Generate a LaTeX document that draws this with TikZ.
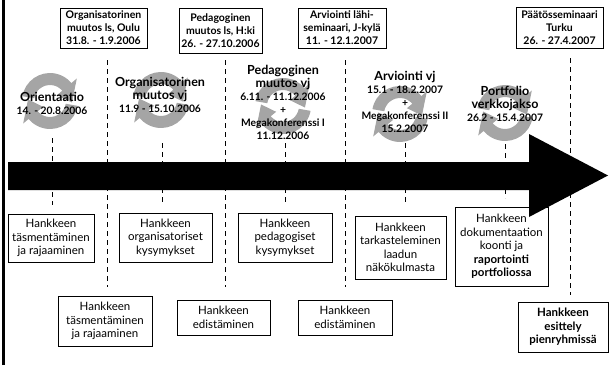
\documentclass[tikz,border=0pt]{standalone}
\usepackage{fontspec}
\setmainfont{Lato}
\definecolor{ringgray}{HTML}{A5A5A5}
\newcommand\icontitle{\fontsize{12.5}{13}\selectfont\bfseries}
\newcommand\iconsub{\fontsize{10.3}{13}\selectfont\bfseries}
\newcommand\topfont{\fontsize{10.5}{13}\selectfont\bfseries}
\newcommand\lowfont{\fontsize{11.5}{13.5}\selectfont}
\newcommand\stack[1]{\begin{tabular}{@{}c@{}}#1\end{tabular}}
\setlength\tabcolsep{0pt}
\tikzset{
  topbox/.style={draw, line width=0.8pt, fill=white, align=center, inner sep=0pt, font=\topfont},
  lowbox/.style={draw, line width=0.8pt, fill=white, align=center, inner sep=0pt, font=\lowfont},
  icontext/.style={inner sep=0pt, font=\icontitle},
  guide/.style={dash pattern=on 5pt off 4pt, line width=1pt},
  cyc/.pic={
    \fill[ringgray] (170:28) arc[start angle=170, end angle=40, radius=28]
      -- (40:35) -- (-4:22) -- (40:9) -- (40:16)
      arc[start angle=40, end angle=170, radius=16] -- cycle;
    \fill[ringgray] (350:28) arc[start angle=350, end angle=220, radius=28]
      -- (220:35) -- (176:22) -- (220:9) -- (220:16)
      arc[start angle=220, end angle=350, radius=16] -- cycle;
  }
}
\begin{document}
\begin{tikzpicture}[x=1pt,y=1pt]
\useasboundingbox (0,0) rectangle (609,365);
% long guides
\coordinate (g1a) at (107,305); \coordinate (g1b) at (107,78);
\coordinate (g2a) at (225,305); \coordinate (g2b) at (225,78);
\coordinate (g3a) at (345,305); \coordinate (g3b) at (345,78);
\coordinate (g4a) at (570,307); \coordinate (g4b) at (570,70);
\draw[guide] (g1a) -- (g1b);
\draw[guide] (g2a) -- (g2b);
\draw[guide] (g3a) -- (g3b);
\draw[guide] (g4a) -- (g4b);
% short ticks
\coordinate (k1a) at (52,227);  \coordinate (k1b) at (52,160);
\coordinate (k2a) at (162,222); \coordinate (k2b) at (162,160);
\coordinate (k3a) at (285,222); \coordinate (k3b) at (285,160);
\coordinate (k4a) at (405,222); \coordinate (k4b) at (405,160);
\coordinate (k5a) at (505,230); \coordinate (k5b) at (505,167);
\draw[guide] (k1a) -- (k1b);
\draw[guide] (k2a) -- (k2b);
\draw[guide] (k3a) -- (k3b);
\draw[guide] (k4a) -- (k4b);
\draw[guide] (k5a) -- (k5b);
% cycle icons
\pic (c1) at (50,264) {cyc};
\pic (c2) at (161,265) {cyc};
\pic (c3) at (283,259) {cyc};
\pic (c4) at (400,251) {cyc};
\pic (c5) at (505,252) {cyc};
% icon texts
\node[icontext] (i1) at (52,260) {\stack{Orientaatio\\{\iconsub 14. - 20.8.2006}}};
\node[icontext] (i2) at (160,268) {\stack{Organisatorinen\\muutos vj\\{\iconsub 11.9 - 15.10.2006}}};
\node[icontext] (i3) at (283,260.5) {\stack{Pedagoginen\\muutos vj\\{\iconsub 6.11. - 11.12.2006}\\{\iconsub +}\\{\iconsub Megakonferenssi I}\\{\iconsub 11.12.2006}}};
\node[icontext] (i4) at (405,261) {\stack{Arviointi vj\\{\iconsub 15.1 - 18.2.2007}\\{\iconsub +}\\{\iconsub Megakonferenssi II}\\{\iconsub 15.2.2007}}};
\node[icontext] (i5) at (505,259) {\stack{Portfolio\\verkkojakso\\{\iconsub 26.2 - 15.4.2007}}};
% top boxes
\node[topbox, minimum width=87pt, minimum height=40pt] (b1) at (103.5,337) {Organisatorinen\\muutos ls, Oulu\\31.8. - 1.9.2006};
\node[topbox, minimum width=83pt, minimum height=45pt] (b2) at (220.5,334.5) {Pedagoginen\\muutos ls, H:ki\\26. - 27.10.2006};
\node[topbox, minimum width=88pt, minimum height=40pt] (b3) at (342,337) {Arviointi lähi-\\seminaari, J-kylä\\11. - 12.1.2007};
\node[topbox, minimum width=87pt, minimum height=41pt] (b4) at (559.5,337.5) {Päätösseminaari\\Turku\\26. - 27.4.2007};
% lower boxes, first row
\node[lowbox, minimum width=86pt, minimum height=48pt] (lA) at (51,127) {Hankkeen\\täsmentäminen\\ja rajaaminen};
\node[lowbox, minimum width=93pt, minimum height=49pt] (lB) at (165.5,127.5) {Hankkeen\\organisatoriset\\kysymykset};
\node[lowbox, minimum width=94pt, minimum height=49pt] (lC) at (285,127.5) {Hankkeen\\pedagogiset\\kysymykset};
\node[lowbox, minimum width=91pt, minimum height=63pt] (lD) at (400.5,117.5) {Hankkeen\\tarkasteleminen\\laadun\\näkökulmasta};
\node[lowbox, minimum width=93pt, minimum height=79pt] (lE) at (501.5,118.5) {Hankkeen\\dokumentaation\\koonti ja\\\textbf{raportointi}\\\textbf{portfoliossa}};
% lower boxes, second row
\node[lowbox, minimum width=94pt, minimum height=50pt] (lF) at (105,44) {Hankkeen\\täsmentäminen\\ja rajaaminen};
\node[lowbox, minimum width=93pt, minimum height=35pt] (lG) at (223.5,47.5) {Hankkeen\\edistäminen};
\node[lowbox, minimum width=94pt, minimum height=35pt] (lH) at (345,47.5) {Hankkeen\\edistäminen};
\node[lowbox, minimum width=90pt, minimum height=50pt] (lI) at (563,38) {\textbf{Hankkeen}\\\textbf{esittely}\\\textbf{pienryhmissä}};
% big arrow
\fill[black] (8,203) -- (529,203) -- (529,231) -- (608,189.5) -- (529,148) -- (529,175) -- (8,175) -- cycle;
% left frame line
\draw[line width=2.5pt] (3.5,0) -- (3.5,365);
\end{tikzpicture}
\end{document}
